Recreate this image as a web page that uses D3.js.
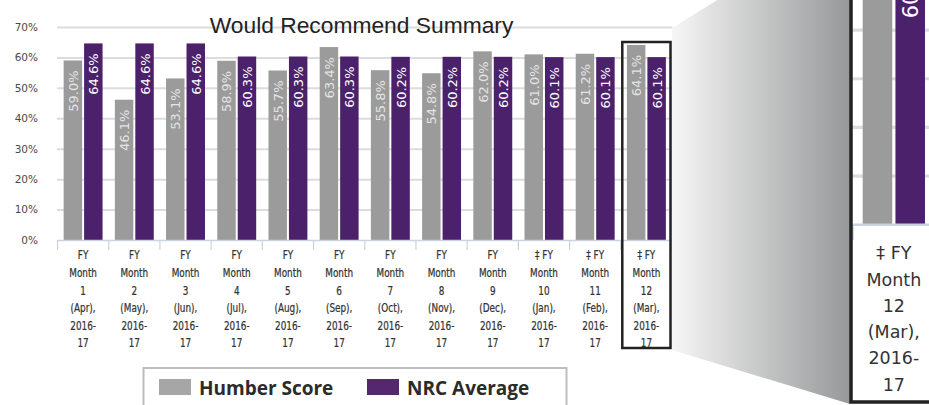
<!DOCTYPE html>
<html>
<head>
<meta charset="utf-8">
<script src="https://cdn.jsdelivr.net/npm/d3@7"></script>
<style>
  body { margin: 0; background: #fff; }
  svg { display: block; }
</style>
</head>
<body>
<svg id="chart" width="929" height="405"></svg>
<script>
const categories = [
  "FY\nMonth\n1\n(Apr),\n2016-\n17",
  "FY\nMonth\n2\n(May),\n2016-\n17",
  "FY\nMonth\n3\n(Jun),\n2016-\n17",
  "FY\nMonth\n4\n(Jul),\n2016-\n17",
  "FY\nMonth\n5\n(Aug),\n2016-\n17",
  "FY\nMonth\n6\n(Sep),\n2016-\n17",
  "FY\nMonth\n7\n(Oct),\n2016-\n17",
  "FY\nMonth\n8\n(Nov),\n2016-\n17",
  "FY\nMonth\n9\n(Dec),\n2016-\n17",
  "‡ FY\nMonth\n10\n(Jan),\n2016-\n17",
  "‡ FY\nMonth\n11\n(Feb),\n2016-\n17",
  "‡ FY\nMonth\n12\n(Mar),\n2016-\n17"
];
const humberScore = [59.0, 46.1, 53.1, 58.9, 55.7, 63.4, 55.8, 54.8, 62.0, 61.0, 61.2, 64.1];
const nrcAverage = [64.6, 64.6, 64.6, 60.3, 60.3, 60.3, 60.2, 60.2, 60.2, 60.1, 60.1, 60.1];
const seriesNames = ["Humber Score", "NRC Average"];
const yTicks = [0, 10, 20, 30, 40, 50, 60, 70, 80];
const chartTitle = "Would Recommend Summary";

const barColors = ["#9b9b9b", "#4c216b"];
const labelColors = ["#e4e4e4", "#ffffff"];
const legendColors = ["#a6a6a6", "#55276f"];

const svg = d3.select("#chart");
const left = 57.5, right = 672, base = 240;

const x = d3.scaleBand()
  .domain(d3.range(categories.length))
  .range([left, right]);

const xInner = d3.scaleBand()
  .domain(seriesNames)
  .range([0, x.bandwidth()])
  .paddingInner(0.098)
  .paddingOuter(0.3);

const y = d3.scaleLinear()
  .domain([0, 80])
  .range([base, base - 80 * 3.043]);

const rows = categories.map((c, i) => ({
  i: i,
  label: c,
  values: [humberScore[i], nrcAverage[i]]
}));

svg.append("rect").attr("width", 929).attr("height", 405).attr("fill", "#fff");

// draws grid, bars, value labels, axis and category labels into g
const drawChart = (g, labelSx, labelTop, labelPitch, valOffset, labelStroke) => {
  g.append("g")
    .attr("class", "y-grid")
    .attr("transform", `translate(${left - 0.5},0)`)
    .call(d3.axisLeft(y).tickValues(yTicks.filter(t => t > 0)).tickSize(-(right - left + 1)).tickFormat(""))
    .call(s => s.select(".domain").remove())
    .call(s => s.selectAll(".tick line").attr("stroke", "#dcdcdc").attr("stroke-width", 2));

  const groups = g.selectAll(".grp")
    .data(rows)
    .enter().append("g")
    .attr("class", "grp")
    .attr("transform", d => `translate(${x(d.i)},0)`);

  groups.selectAll("rect")
    .data(d => d.values.map((v, k) => ({ v: v, k: k })))
    .enter().append("rect")
    .attr("x", d => xInner(seriesNames[d.k]))
    .attr("width", xInner.bandwidth())
    .attr("y", d => y(d.v))
    .attr("height", d => base - y(d.v))
    .attr("fill", d => barColors[d.k]);

  groups.selectAll(".val")
    .data(d => d.values.map((v, k) => ({ v: v, k: k })))
    .enter().append("text")
    .attr("class", "val")
    .attr("transform", d => `translate(${xInner(seriesNames[d.k]) + xInner.bandwidth() / 2 + 0.5},${y(d.v) + valOffset}) rotate(-90)`)
    .attr("text-anchor", "end")
    .attr("dominant-baseline", "central")
    .attr("font-family", "DejaVu Sans, Verdana, sans-serif")
    .attr("font-size", 13)
    .attr("fill", d => labelColors[d.k])
    .text(d => d3.format(".1f")(d.v) + "%");

  // x axis line and separators
  g.append("line")
    .attr("x1", left).attr("x2", right)
    .attr("y1", base + 0.5).attr("y2", base + 0.5)
    .attr("stroke", "#c9d4e0").attr("stroke-width", 1.5);

  g.selectAll(".sep")
    .data(d3.range(categories.length + 1))
    .enter().append("line")
    .attr("class", "sep")
    .attr("x1", d => d < categories.length ? x(d) : right)
    .attr("x2", d => d < categories.length ? x(d) : right)
    .attr("y1", base).attr("y2", base + 10)
    .attr("stroke", "#c9d4e0").attr("stroke-width", 1.2);

  groups.each(function (d) {
    const lines = d.label.split("\n");
    d3.select(this).selectAll(".cat")
      .data(lines)
      .enter().append("text")
      .attr("class", "cat")
      .attr("transform", (t, j) => `translate(${x.bandwidth() / 2},${labelTop + j * labelPitch}) scale(${labelSx},1)`)
      .attr("text-anchor", "middle")
      .attr("dominant-baseline", "central")
      .attr("font-family", "DejaVu Sans, Verdana, sans-serif")
      .attr("font-size", 11.5)
      .attr("fill", "#333")
      .attr("stroke", "#333")
      .attr("stroke-width", labelStroke)
      .text(t => t);
  });
};

const main = svg.append("g");

// y axis labels
main.append("g")
  .attr("transform", `translate(41,0)`)
  .call(d3.axisLeft(y).tickValues(yTicks).tickSize(0).tickPadding(3).tickFormat(d => d + "%"))
  .call(s => s.select(".domain").remove())
  .call(s => s.selectAll("text")
    .attr("font-family", "DejaVu Sans, Verdana, sans-serif")
    .attr("font-size", 10.5)
    .attr("fill", "#4a4a4a"));

drawChart(main, 0.77, 255, 17.6, 10, 0.25);

main.append("text")
  .attr("x", 361.5).attr("y", 33)
  .attr("text-anchor", "middle")
  .attr("font-family", "Liberation Sans, Arial, sans-serif")
  .attr("font-size", 22.8)
  .attr("fill", "#222")
  .text(chartTitle);

// highlight box around the last month
const last = categories.length - 1;
const bx0 = x(last) + 1.5, bx1 = x(last) + x.bandwidth() - 1.5;
main.append("rect")
  .attr("x", bx0).attr("y", 42)
  .attr("width", bx1 - bx0).attr("height", 306)
  .attr("fill", "none")
  .attr("stroke", "#222").attr("stroke-width", 2.5);

// zoom callout
const defs = svg.append("defs");
const grad = defs.append("linearGradient").attr("id", "fade")
  .attr("x1", "0%").attr("x2", "100%").attr("y1", "0%").attr("y2", "0%");
grad.append("stop").attr("offset", "0%").attr("stop-color", "#f6f6f6");
grad.append("stop").attr("offset", "100%").attr("stop-color", "#979899");

svg.append("polygon")
  .attr("points", [[bx1 + 1.5, 28], [850, -82], [850, 404], [bx1 + 1.5, 350]].map(p => p.join(",")).join(" "))
  .attr("fill", "url(#fade)");

defs.append("clipPath").attr("id", "panelClip")
  .append("rect").attr("x", 852).attr("y", 0).attr("width", 80).attr("height", 401);

svg.append("rect")
  .attr("x", 851).attr("y", -10).attr("width", 100).attr("height", 412)
  .attr("fill", "#fff");

const k = 1.6;
const px = 862.7 - k * (x(last) + xInner(seriesNames[0]));
const py = 224 - k * base;
const panel = svg.append("g").attr("clip-path", "url(#panelClip)")
  .append("g").attr("transform", `translate(${px},${py}) scale(${k})`);
drawChart(panel, 0.95, 258, 16.4, 13, 0);

svg.append("rect")
  .attr("x", 851).attr("y", -10).attr("width", 100).attr("height", 412)
  .attr("fill", "none")
  .attr("stroke", "#222").attr("stroke-width", 3.5);

// legend
const legend = svg.append("g");
legend.append("rect")
  .attr("x", 143.5).attr("y", 368)
  .attr("width", 423).attr("height", 60)
  .attr("fill", "#fff")
  .attr("stroke", "#bdbdbd").attr("stroke-width", 2);

const legendX = [159, 367];
const items = legend.selectAll(".item")
  .data(seriesNames)
  .enter().append("g")
  .attr("class", "item")
  .attr("transform", (d, i) => `translate(${legendX[i]},379)`);

items.append("rect")
  .attr("width", 32).attr("height", 16)
  .attr("fill", (d, i) => legendColors[i]);

items.append("text")
  .attr("x", 40).attr("y", 15.5)
  .attr("font-family", "Open Sans, Noto Sans, sans-serif")
  .attr("font-weight", "bold")
  .attr("font-size", 19)
  .attr("fill", "#2b2b2b")
  .text(d => d);
</script>
</body>
</html>
